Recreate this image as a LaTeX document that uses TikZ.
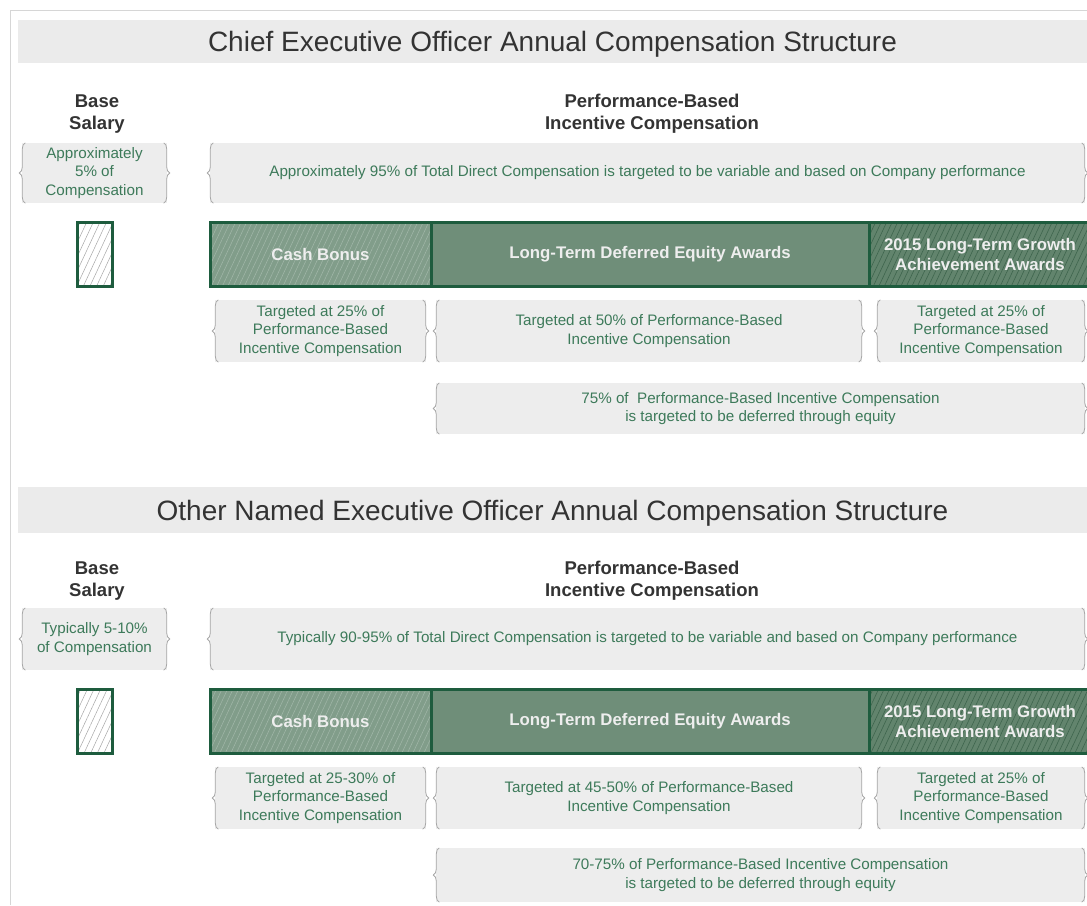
\documentclass[tikz,border=0pt]{standalone}
\usepackage{fontspec}
\setmainfont{Liberation Sans}
\usetikzlibrary{positioning}
\usetikzlibrary{decorations.pathreplacing}
\usetikzlibrary{patterns.meta}

\definecolor{bandgray}{HTML}{EBEBEB}
\definecolor{boxgray}{HTML}{EDEDED}
\definecolor{bracegray}{HTML}{A6A6A6}
\definecolor{framegray}{HTML}{D6D6D6}
\definecolor{headgray}{HTML}{333333}
\definecolor{notegreen}{HTML}{3D7A5A}
\definecolor{bardark}{HTML}{1E5C3E}
\definecolor{barfill}{HTML}{6F8E79}
\definecolor{cashfill}{HTML}{819D8A}
\definecolor{cashline}{HTML}{A3B8AA}
\definecolor{lgtfill}{HTML}{62846D}
\definecolor{lgtline}{HTML}{3E654D}
\definecolor{barword}{HTML}{EEEEEE}

\tikzset{
  band/.style={fill=bandgray, inner sep=0pt, minimum width=1069pt, minimum height=43pt,
    text depth=0pt, text=headgray, font=\fontsize{28}{32}\selectfont},
  head/.style={align=center, text=headgray, font=\bfseries\fontsize{18.5}{22}\selectfont},
  note/.style={fill=boxgray, inner sep=0pt, align=center, text=notegreen,
    font=\fontsize{15.2}{18.8}\selectfont},
  bracel/.style={draw=bracegray, line width=0.8pt, decorate,
    decoration={brace, amplitude=6pt, raise=-3.5pt}},
  barpart/.style={draw=bardark, line width=3pt, inner sep=0pt, minimum height=64pt,
    align=center, text=barword, font=\bfseries\fontsize{16.8}{20}\selectfont},
  cashpart/.style={barpart, preaction={fill=cashfill}, pattern color=cashline,
    pattern={Lines[angle=65, distance=5pt, line width=0.5pt]}},
  ltdpart/.style={barpart, fill=barfill},
  lgtpart/.style={barpart, preaction={fill=lgtfill}, pattern color=lgtline,
    pattern={Lines[angle=65, distance=5pt, line width=0.6pt]}},
  salarybar/.style={draw=bardark, line width=3pt, inner sep=0pt, minimum width=35pt,
    minimum height=64pt, preaction={fill=white}, pattern color=bracegray,
    pattern={Lines[angle=65, distance=6pt, line width=0.5pt]}}
}

\begin{document}
\begin{tikzpicture}[x=1pt, y=-1pt]
  \useasboundingbox (0,0) rectangle (1087,905);
  \draw [framegray, line width=1.5pt] (10.5,905) -- (10.5,10.5) -- (1090,10.5);

  % CEO
  \node [band] (ceo) at (552.5,41.5) {Chief Executive Officer Annual Compensation Structure};
  \node [head] (salary) at (97,114) {Base\\Salary};
  \node [head] (incentive) at (652,114) {Performance-Based\\Incentive Compensation};
  \node [note, minimum width=145pt, minimum height=60pt] (base) at (94.5,173)
    {Approximately\\5\% of\\Compensation};
  \node [note, minimum width=875pt, minimum height=60pt] (perf) at (647.5,173)
    {Approximately 95\% of Total Direct Compensation is targeted to be variable and based on Company performance};
  \node [salarybar] (sbar) at (94.5,254) {};
  \node [cashpart, minimum width=221pt] (cash) at (320.5,254) {Cash Bonus};
  \node [ltdpart, minimum width=438pt] (ltd) at (650,254) {Long-Term Deferred Equity Awards};
  \node [lgtpart, minimum width=222pt] (lgt) at (980,254) {2015 Long-Term Growth\\Achievement Awards};
  \node [note, minimum width=211pt, minimum height=62pt] (cashnote) at (320.5,331)
    {Targeted at 25\% of\\Performance-Based\\Incentive Compensation};
  \node [note, minimum width=426pt, minimum height=62pt] (ltdnote) at (649,331)
    {Targeted at 50\% of Performance-Based\\Incentive Compensation};
  \node [note, minimum width=208pt, minimum height=62pt] (lgtnote) at (981,331)
    {Targeted at 25\% of\\Performance-Based\\Incentive Compensation};
  \node [note, minimum width=649pt, minimum height=51pt] (defer) at (760.5,408.5)
    {75\% of~ Performance-Based Incentive Compensation\\is targeted to be deferred through equity};

  % other NEOs
  \begin{scope}[yshift=-467pt]
  \node [band, minimum height=46pt] (neo) at (552.5,43) {Other Named Executive Officer Annual Compensation Structure};
  \node [head] (salary2) at (97,114) {Base\\Salary};
  \node [head] (incentive2) at (652,114) {Performance-Based\\Incentive Compensation};
  \node [note, minimum width=145pt, minimum height=62pt] (base2) at (94.5,172)
    {Typically 5-10\%\\of Compensation};
  \node [note, minimum width=875pt, minimum height=62pt] (perf2) at (647.5,172)
    {Typically 90-95\% of Total Direct Compensation is targeted to be variable and based on Company performance};
  \node [salarybar] (sbar2) at (94.5,254) {};
  \node [cashpart, minimum width=221pt] (cash2) at (320.5,254) {Cash Bonus};
  \node [ltdpart, minimum width=438pt] (ltd2) at (650,254) {Long-Term Deferred Equity Awards};
  \node [lgtpart, minimum width=222pt] (lgt2) at (980,254) {2015 Long-Term Growth\\Achievement Awards};
  \node [note, minimum width=211pt, minimum height=62pt] (cashnote2) at (320.5,331)
    {Targeted at 25-30\% of\\Performance-Based\\Incentive Compensation};
  \node [note, minimum width=426pt, minimum height=62pt] (ltdnote2) at (649,331)
    {Targeted at 45-50\% of Performance-Based\\Incentive Compensation};
  \node [note, minimum width=208pt, minimum height=62pt] (lgtnote2) at (981,331)
    {Targeted at 25\% of\\Performance-Based\\Incentive Compensation};
  \node [note, minimum width=649pt, minimum height=54pt] (defer2) at (760.5,408)
    {70-75\% of Performance-Based Incentive Compensation\\is targeted to be deferred through equity};
  \end{scope}

  \foreach \n in {base,perf,cashnote,ltdnote,lgtnote,defer,base2,perf2,cashnote2,ltdnote2,lgtnote2,defer2} {
    \draw [bracel] (\n.south west) -- (\n.north west);
    \draw [bracel] (\n.north east) -- (\n.south east);
  }
\end{tikzpicture}
\end{document}
